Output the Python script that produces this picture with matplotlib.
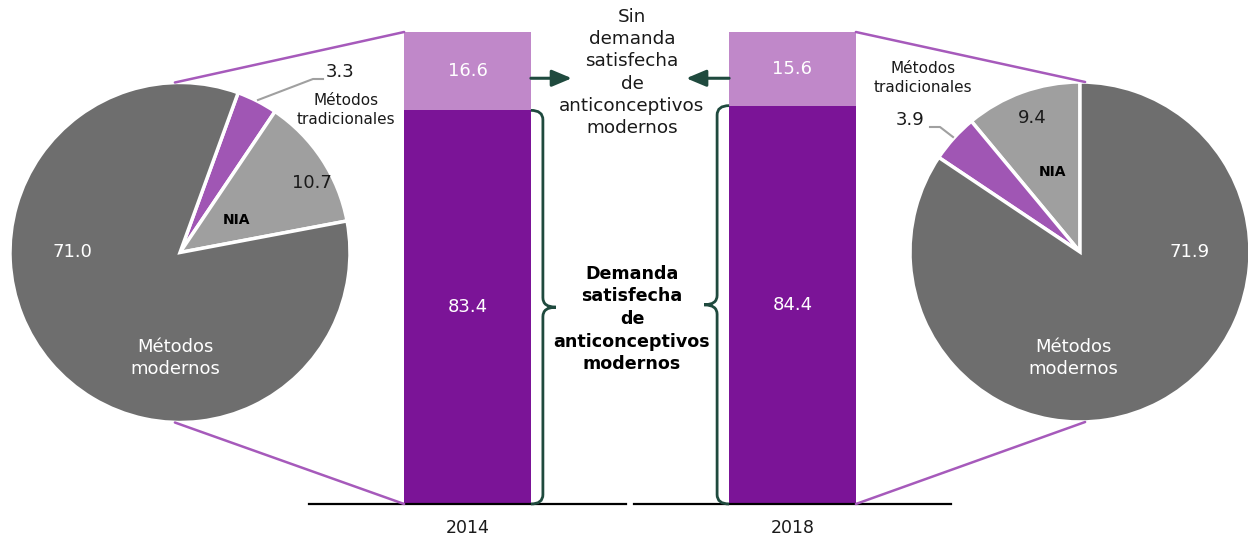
import matplotlib
matplotlib.use("Agg")
import matplotlib.pyplot as plt
from matplotlib.patches import ConnectionPatch, PathPatch
from matplotlib.path import Path

# ---------------- data ----------------
years = ["2014", "2018"]
demanda_satisfecha = [83.4, 84.4]
sin_demanda = [16.6, 15.6]

pie_labels = ["Métodos modernos", "Métodos tradicionales", "NIA"]
pie_2014 = [71.0, 3.3, 10.7]
pie_2018 = [71.9, 3.9, 9.4]

# ---------------- style ----------------
C_MOD = "#6e6e6e"
C_TRAD = "#a056b4"
C_NIA = "#9f9f9f"
C_BAR_DARK = "#7b1497"
C_BAR_LIGHT = "#c088c9"
C_CONN = "#a65abb"
C_BRACE = "#1f4a3e"
C_TXT = "#1a1a1a"

plt.rcParams["font.family"] = ["DejaVu Sans"]

W, H = 1248, 541
fig = plt.figure(figsize=(W / 100, H / 100), dpi=100)


def px_axes(x0, y0, x1, y1, **kw):
    return fig.add_axes([x0 / W, 1 - y1 / H, (x1 - x0) / W, (y1 - y0) / H], **kw)


# ---------------- bars ----------------
axb = px_axes(309, 32, 951, 504)
xpos = [0, 1]
bw = 0.39
axb.bar(xpos, demanda_satisfecha, width=bw, color=C_BAR_DARK, zorder=2)
axb.bar(xpos, sin_demanda, width=bw, bottom=demanda_satisfecha, color=C_BAR_LIGHT, zorder=2)
axb.set_xlim(-0.4877, 1.4877)
axb.set_ylim(0, 100)
for s in axb.spines.values():
    s.set_visible(False)
axb.set_yticks([])
axb.set_xticks(xpos)
axb.set_xticklabels(years, fontsize=12.5, color=C_TXT)
axb.tick_params(axis="x", length=0, pad=11)
for i in xpos:
    axb.plot([i - 0.4877, i + 0.4877], [0, 0], color="black", lw=1.6, clip_on=False, zorder=3)
    d = demanda_satisfecha[i]
    s_ = sin_demanda[i]
    axb.text(i, d / 2, f"{d:.1f}", color="white", ha="center", va="center", fontsize=13)
    axb.text(i, d + s_ / 2, f"{s_:.1f}", color="white", ha="center", va="center", fontsize=13)

# braces
def brace(ax, edge, vx, tip, top, ry=2.0):
    mid = top / 2
    verts = [(edge, top), (vx, top), (vx, top - ry),
             (vx, mid + ry),
             (vx, mid), (tip, mid),
             (vx, mid), (vx, mid - ry),
             (vx, ry),
             (vx, 0), (edge, 0)]
    codes = [Path.MOVETO, Path.CURVE3, Path.CURVE3,
             Path.LINETO,
             Path.CURVE3, Path.CURVE3,
             Path.CURVE3, Path.CURVE3,
             Path.LINETO,
             Path.CURVE3, Path.CURVE3]
    ax.add_patch(PathPatch(Path(verts, codes), fill=False, edgecolor=C_BRACE, lw=2.0,
                           clip_on=False, zorder=4))

brace(axb, 0 + bw / 2, 0.232, 0.272, demanda_satisfecha[0])
brace(axb, 1 - bw / 2, 0.768, 0.728, demanda_satisfecha[1])

# arrows
arrow_y = 90.2
for x0, x1 in [(0 + bw / 2, 0.321), (1 - bw / 2, 0.673)]:
    axb.annotate("", xy=(x1, arrow_y), xytext=(x0, arrow_y),
                 arrowprops=dict(arrowstyle="-|>,head_length=1.0,head_width=0.42",
                                 mutation_scale=12, lw=2.2, color=C_BRACE,
                                 shrinkA=0, shrinkB=0), annotation_clip=False)

# ---------------- pies ----------------
wp = dict(edgecolor="white", linewidth=2.5)
axl = px_axes(10, 82.5, 350, 422.5)
axl.pie([pie_2014[1], pie_2014[2], pie_2014[0]], colors=[C_TRAD, C_NIA, C_MOD],
        startangle=70, counterclock=False, wedgeprops=wp, radius=1)
axl.set_xlim(-1, 1)
axl.set_ylim(-1, 1)
axl.axis("off")

axr = px_axes(910, 82, 1250, 422)
axr.pie([pie_2018[2], pie_2018[1], pie_2018[0]], colors=[C_NIA, C_TRAD, C_MOD],
        startangle=90, counterclock=True, wedgeprops=wp, radius=1)
axr.set_xlim(-1, 1)
axr.set_ylim(-1, 1)
axr.axis("off")

# connectors
for xyA, axA, xyB in [((-0.03, 1.0), axl, (-bw / 2, 100)),
                      ((-0.03, -1.0), axl, (-bw / 2, 0)),
                      ((0.03, 1.0), axr, (1 + bw / 2, 100)),
                      ((0.03, -1.0), axr, (1 + bw / 2, 0))]:
    con = ConnectionPatch(xyA=xyA, coordsA=axA.transData, xyB=xyB, coordsB=axb.transData,
                          color=C_CONN, lw=1.8, zorder=1)
    fig.add_artist(con)

# ---------------- overlay texts ----------------
ov = fig.add_axes([0, 0, 1, 1], zorder=10)
ov.set_xlim(0, W)
ov.set_ylim(H, 0)
ov.axis("off")
ov.patch.set_alpha(0)

ov.text(632, 72.5, "Sin\ndemanda\nsatisfecha\nde\nanticonceptivos\nmodernos",
        ha="center", va="center", fontsize=13.2, color=C_TXT, linespacing=1.29)
ov.text(632, 319, "Demanda\nsatisfecha\nde\nanticonceptivos\nmodernos",
        ha="center", va="center", fontsize=12.6, fontweight="bold", color="black",
        linespacing=1.33)

# left pie labels
ov.text(72, 252, f"{pie_2014[0]:.1f}", color="white", ha="center", va="center", fontsize=13)
ov.text(175, 358, "Métodos\nmodernos", color="white", ha="center", va="center", fontsize=13,
        linespacing=1.3)
ov.text(236, 220, "NIA", color="black", ha="center", va="center", fontsize=10, fontweight="bold")
ov.text(312, 183, f"{pie_2014[2]:.1f}", color=C_TXT, ha="center", va="center", fontsize=13)
ov.text(340, 72, f"{pie_2014[1]:.1f}", color=C_TXT, ha="center", va="center", fontsize=13)
ov.plot([258, 313, 323], [100, 79, 79], color="#a0a0a0", lw=1.5)
ov.text(346, 110, "Métodos\ntradicionales", color=C_TXT, ha="center", va="center", fontsize=11,
        linespacing=1.35)

# right pie labels
ov.text(1190, 252, f"{pie_2018[0]:.1f}", color="white", ha="center", va="center", fontsize=13)
ov.text(1073, 358, "Métodos\nmodernos", color="white", ha="center", va="center", fontsize=13,
        linespacing=1.3)
ov.text(1052, 172, "NIA", color="black", ha="center", va="center", fontsize=10, fontweight="bold")
ov.text(1032, 118, f"{pie_2018[2]:.1f}", color=C_TXT, ha="center", va="center", fontsize=13)
ov.text(910, 120, f"{pie_2018[1]:.1f}", color=C_TXT, ha="center", va="center", fontsize=13)
ov.plot([930, 940, 953], [127, 127, 137], color="#a0a0a0", lw=1.5)
ov.text(923, 78, "Métodos\ntradicionales", color=C_TXT, ha="center", va="center", fontsize=11,
        linespacing=1.35)

fig.savefig("out.png", dpi=100)
